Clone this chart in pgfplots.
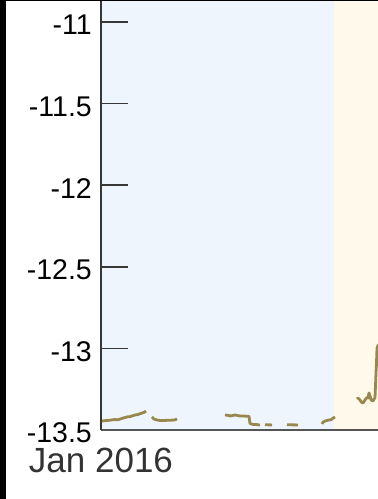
\documentclass[border=0pt]{standalone}
\usepackage{pgfplots}
\pgfplotsset{compat=1.18}
\usepackage{fontspec}
\setmainfont{Liberation Sans}
\definecolor{lineolive}{RGB}{152,136,78}
\definecolor{shadeblue}{RGB}{238,245,252}
\definecolor{shadecream}{RGB}{255,249,236}
\definecolor{axisgrey}{RGB}{55,55,55}
\begin{document}
\begin{tikzpicture}
\useasboundingbox (0pt,0pt) rectangle (378pt,499pt);
\begin{scope}
\clip (0pt,0pt) rectangle (378pt,499pt);
\begin{axis}[
  anchor=south west, at={(101pt,69pt)},
  scale only axis, width=600pt, height=430pt,
  xmin=0, xmax=1200, ymin=-13.5, ymax=-10.865,
  axis x line=bottom, axis y line=left,
  axis line style={-},
  x axis line style={line width=2.6pt, color=axisgrey!85},
  y axis line style={line width=1.4pt, color=axisgrey},
  axis on top=true,
  unbounded coords=jump,
  xtick={0}, xticklabels={Jan 2016},
  ytick={-13.5,-13,-12.5,-12,-11.5,-11},
  yticklabels={-13.5,-13,-12.5,-12,-11.5,-11},
  tick align=inside,
  major tick length=27pt,
  x tick style={draw=none},
  y tick style={line width=1.6pt, color=axisgrey},
  yticklabel style={font=\fontsize{28.5}{28.5}\selectfont, inner sep=0pt, xshift=-9pt, yshift=-3pt, text=black},
  xticklabel style={font=\fontsize{35}{35}\selectfont, inner sep=0pt, yshift=-18pt, text=black!80},
]
% background periods
\addplot[draw=none, fill=shadeblue] coordinates {(0,-13.5) (466,-13.5) (466,-10.8) (0,-10.8)} -- cycle;
\addplot[draw=none, fill=shadecream] coordinates {(466,-13.5) (1200,-13.5) (1200,-10.8) (466,-10.8)} -- cycle;
% series
\addplot[lineolive, line width=2.8pt, line join=round] coordinates {
(2,-13.445) (10,-13.442) (18,-13.440) (26,-13.436) (34,-13.437) (38,-13.433) (44,-13.427) (52,-13.420) (58,-13.418) (68,-13.408) (74,-13.405) (80,-13.398) (86,-13.392) (90,-13.384)
(91,nan)
(102,-13.420) (106,-13.433) (112,-13.439) (120,-13.442) (130,-13.441) (140,-13.440) (148,-13.438) (152,-13.432)
(153,nan)
(248,-13.408) (254,-13.410) (258,-13.414) (264,-13.411) (268,-13.408) (274,-13.412) (278,-13.414) (290,-13.415) (296,-13.416) (298,-13.460) (304,-13.466) (312,-13.467) (318,-13.470)
(319,nan)
(328,-13.468) (342,-13.469)
(343,nan)
(372,-13.468) (394,-13.469)
(395,nan)
(442,-13.463) (444,-13.452) (448,-13.445) (454,-13.440) (460,-13.437) (464,-13.428) (468,-13.420)
(469,nan)
(512,-13.310) (514,-13.304) (518,-13.316) (521,-13.330) (524,-13.335) (528,-13.316) (532,-13.300) (534,-13.304) (536,-13.273) (538,-13.290) (540,-13.316) (544,-13.322) (546,-13.310) (548,-13.304) (550,-13.151) (551,-13.089) (552,-13.000) (554,-12.980) (560,-13.100) (570,-13.200)
};
\end{axis}
\end{scope}
% frame edges
\fill[black] (0pt,0pt) rectangle (6pt,499pt);
\fill[black] (0pt,497.8pt) rectangle (378pt,499pt);
\end{tikzpicture}
\end{document}
